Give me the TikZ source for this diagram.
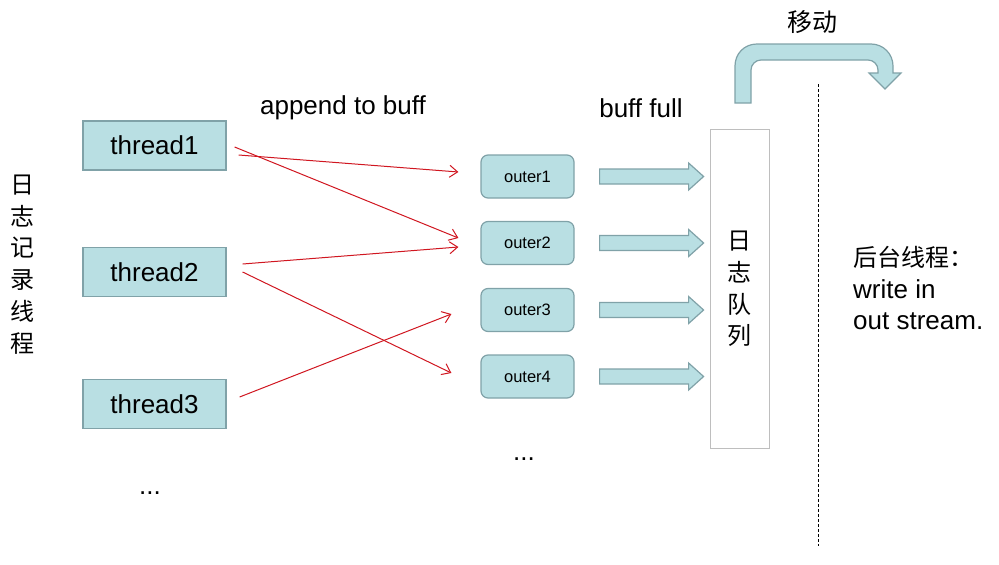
\documentclass[tikz,border=0pt]{standalone}
\usepackage{fontspec}
\setmainfont{Liberation Sans}
\newfontfamily\cjk{Noto Sans CJK SC}
\usetikzlibrary{arrows.meta,calc}
\definecolor{tealfill}{RGB}{185,223,227}
\definecolor{tealline}{RGB}{128,162,168}
\definecolor{qline}{RGB}{190,190,190}
\definecolor{redline}{RGB}{208,22,32}
\tikzset{
  threadbox/.style={draw=tealline,fill=tealfill,line width=1.2pt,minimum width=143pt,minimum height=49pt,inner sep=0pt,font=\fontsize{26}{30}\selectfont},
  outerbox/.style={draw=tealline,fill=tealfill,line width=1.2pt,rounded corners=7pt,minimum width=93pt,minimum height=43pt,inner sep=0pt,font=\fontsize{16.5}{20}\selectfont},
  queuebox/.style={draw=qline,line width=1pt,minimum width=59pt,minimum height=319pt,inner sep=0pt},
  redarrow/.style={draw=redline,line width=1pt,-{Straight Barb[length=8pt,width=12pt,line width=1pt]}},
  label/.style={inner sep=0pt,font=\fontsize{26}{30}\selectfont},
  cjklabel/.style={inner sep=0pt,font=\cjk\fontsize{24}{31.7}\selectfont,align=center},
  blockarrow/.style={draw=tealline,fill=tealfill,line width=1.2pt},
}
\begin{document}
\begin{tikzpicture}[x=1pt,y=-1pt]
\useasboundingbox (0,0) rectangle (999,565);
% threads
\node[threadbox] (t1) at (154.5,145.5) {thread1};
\node[threadbox] (t2) at (154.5,272) {thread2};
\node[threadbox] (t3) at (154.5,404) {thread3};
% outers
\node[outerbox] (o1) at (527.5,176.5) {outer1};
\node[outerbox] (o2) at (527.5,243) {outer2};
\node[outerbox] (o3) at (527.5,310) {outer3};
\node[outerbox] (o4) at (527.5,376.5) {outer4};
% queue
\node[queuebox] (q) at (739.5,288.5) {};
\node[cjklabel] (qt) at (739.5,289) {日\\志\\队\\列};
% labels
\node[label] (lab1) at (343,108) {append to buff};
\node[label] (lab2) at (641,108) {buff full};
\node[cjklabel,font=\cjk\fontsize{25}{30}\selectfont] (move) at (812,22) {移动};
\node[cjklabel] (leftcol) at (22,264.5) {日\\志\\记\\录\\线\\程};
\node[label,anchor=base] (dots1) at (150,494) {...};
\node[label,anchor=base] (dots2) at (524,460) {...};
\node[cjklabel,anchor=base west] (r1) at (853,266) {后台线程：};
\node[label,anchor=base west] (r2) at (853,298) {write in};
\node[label,anchor=base west] (r3) at (853,329) {out stream.};
% red arrows
\draw[redarrow] ([xshift=12pt,yshift=-9.5pt]t1.east) -- ([xshift=-22pt,yshift=4.5pt]o1.west);
\draw[redarrow] ([xshift=8pt,yshift=-1.5pt]t1.east) -- ([xshift=-22pt,yshift=5pt]o2.west);
\draw[redarrow] ([xshift=16pt,yshift=8pt]t2.east) -- ([xshift=-22pt,yshift=-4pt]o2.west);
\draw[redarrow] ([xshift=16pt,yshift=0pt]t2.east) -- ([xshift=-29pt,yshift=3.5pt]o4.west);
\draw[redarrow] ([xshift=13pt,yshift=7pt]t3.east) -- ([xshift=-29pt,yshift=-4pt]o3.west);
% block arrows
\foreach \o in {o1,o2,o3,o4}{
  \path ([xshift=25pt]\o.east) coordinate (s);
  \draw[blockarrow] ($(s)+(0,-7.5)$) -- ($(s)+(89,-7.5)$) -- ($(s)+(89,-13.5)$) -- ($(s)+(104,0)$)
     -- ($(s)+(89,13.5)$) -- ($(s)+(89,7.5)$) -- ($(s)+(0,7.5)$) -- cycle;
}
% dashed separator
\coordinate (dtop) at (818,84);
\coordinate (dbot) at (818,546);
\draw[line width=0.9pt,dash pattern=on 3pt off 2pt] (dtop) -- (dbot);
% U-turn arrow
\draw[blockarrow] (735,103) -- (735,66) .. controls (735,53.8) and (744.2,44) .. (757,44)
  -- (871,44) .. controls (883.2,44) and (893,53.8) .. (893,66) -- (893,73) -- (901,73) -- (885,89)
  -- (869,73) -- (878,73) -- (878,70) .. controls (878,64.5) and (873.5,60) .. (868,60)
  -- (761,60) .. controls (755.5,60) and (751,64.5) .. (751,70) -- (751,103) -- cycle;
\end{tikzpicture}
\end{document}
